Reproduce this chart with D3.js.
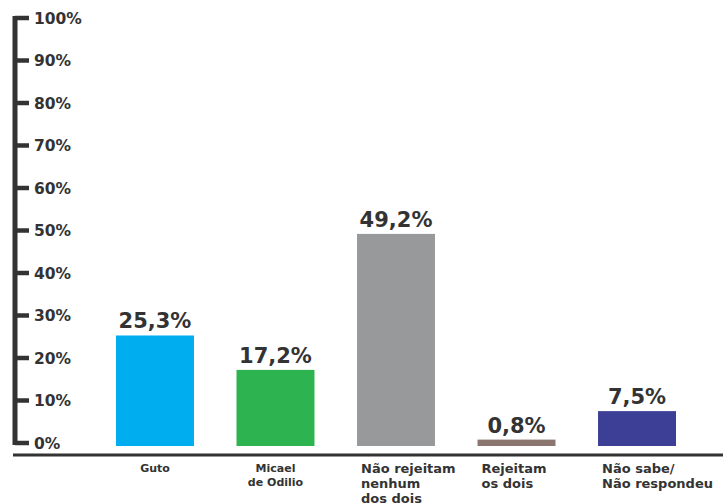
<!DOCTYPE html>
<html>
<head>
<meta charset="utf-8">
<script src="https://cdn.jsdelivr.net/npm/d3@7"></script>
<style>
	body { margin: 0; background: #fff; }
	svg { display: block; font-family: "DejaVu Sans", sans-serif; font-weight: bold; }
</style>
</head>
<body>
<div id="chart"></div>
<script>
// data
var categories = ["Guto", "Micael de Odilio", "Não rejeitam nenhum dos dois", "Rejeitam os dois", "Não sabe/ Não respondeu"];
var labelLines = [["Guto"], ["Micael", "de Odilio"], ["Não rejeitam", "nenhum", "dos dois"], ["Rejeitam", "os dois"], ["Não sabe/", "Não respondeu"]];
var values = [25.3, 17.2, 49.2, 0.8, 7.5];
var colors = ["#00aeef", "#2db34f", "#98999b", "#8b766f", "#3c3f95"];
var tickValues = [0, 10, 20, 30, 40, 50, 60, 70, 80, 90, 100];

var width = 723, height = 503;
var ink = "#333333";

var svg = d3.select("#chart").append("svg")
	.attr("width", width)
	.attr("height", height);

var x = d3.scaleBand()
	.domain(categories)
	.range([116, 676])
	.paddingInner(0.353)
	.paddingOuter(0);

var y = d3.scaleLinear()
	.domain([0, 100])
	.range([443, 18]);

var barBottom = 446;

// y axis: thick line with stubby ticks, labels right of ticks
var axis = svg.append("g");
axis.append("line")
	.attr("x1", 15).attr("x2", 15)
	.attr("y1", y(100) - 2).attr("y2", y(0) + 2)
	.attr("stroke", ink).attr("stroke-width", 5);

axis.selectAll(".tick")
	.data(tickValues)
	.enter()
	.append("line")
	.attr("class", "tick")
	.attr("x1", 15).attr("x2", 29)
	.attr("y1", function(d) { return y(d); })
	.attr("y2", function(d) { return y(d); })
	.attr("stroke", ink).attr("stroke-width", 4.5);

axis.selectAll(".tickLabel")
	.data(tickValues)
	.enter()
	.append("text")
	.attr("class", "tickLabel")
	.attr("x", 34)
	.attr("y", function(d) { return y(d); })
	.attr("dy", "0.36em")
	.attr("fill", ink)
	.style("font-size", "15.5px")
	.text(function(d) { return d + "%"; });

// baseline
svg.append("line")
	.attr("x1", 13).attr("x2", width)
	.attr("y1", 455).attr("y2", 455)
	.attr("stroke", ink).attr("stroke-width", 3);

// bars
svg.selectAll(".bar")
	.data(values)
	.enter()
	.append("rect")
	.attr("class", "bar")
	.attr("x", function(d, i) { return x(categories[i]); })
	.attr("width", x.bandwidth())
	.attr("y", function(d) { return y(d); })
	.attr("height", function(d) { return barBottom - y(d); })
	.attr("fill", function(d, i) { return colors[i]; });

// value labels
svg.selectAll(".value")
	.data(values)
	.enter()
	.append("text")
	.attr("class", "value")
	.attr("x", function(d, i) { return x(categories[i]) + x.bandwidth() / 2; })
	.attr("y", function(d) { return y(d) - 7; })
	.attr("text-anchor", "middle")
	.attr("fill", ink)
	.style("font-size", "21px")
	.text(function(d) { return d.toFixed(1).replace(".", ",") + "%"; });

// category labels: first two small and centred, the rest larger and left aligned
var cat = svg.selectAll(".cat")
	.data(categories)
	.enter()
	.append("text")
	.attr("class", "cat")
	.attr("fill", ink)
	.style("font-size", function(d, i) { return i < 2 ? "11px" : "13px"; })
	.attr("text-anchor", function(d, i) { return i < 2 ? "middle" : "start"; })
	.attr("transform", function(d, i) {
		var px = i < 2 ? x(d) + x.bandwidth() / 2 : x(d) + 4;
		var py = i < 2 ? 472 : 473;
		return "translate(" + px + "," + py + ")";
	});

cat.selectAll("tspan")
	.data(function(d, i) { return labelLines[i].map(function(t) { return {t: t, small: i < 2}; }); })
	.enter()
	.append("tspan")
	.attr("x", 0)
	.attr("y", function(d, j) { return j * (d.small ? 14 : 15); })
	.text(function(d) { return d.t; });
</script>
</body>
</html>
